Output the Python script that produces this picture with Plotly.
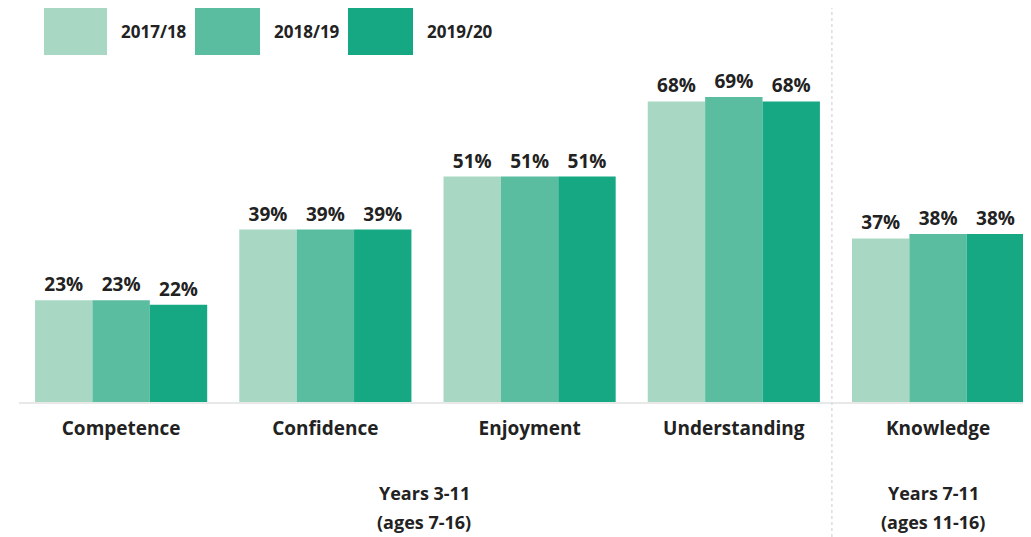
import plotly.graph_objects as go

categories = ["Competence", "Confidence", "Enjoyment", "Understanding", "Knowledge"]
years = ["2017/18", "2018/19", "2019/20"]
values_2017 = [23, 39, 51, 68, 37]
values_2018 = [23, 39, 51, 69, 38]
values_2019 = [22, 39, 51, 68, 38]
series = [values_2017, values_2018, values_2019]
colors = ["#a8d8c3", "#5bbd9f", "#15a883"]
group_lines = [["Years 3-11", "(ages 7-16)"], ["Years 7-11", "(ages 11-16)"]]

FONT = "Open Sans"
TXT = "#222222"
# page offset: body margin of 8px
OFF = 8
PL, PR = 19, 1031          # plot area left/right in page px
BASE = 402                 # baseline in page px
TOP = OFF                  # plot top in page px
PH = BASE - TOP


def px(xp):
    return (xp - PL) / (PR - PL)


def py(yp):
    return (BASE - yp) / PH


fig = go.Figure()
for name, vals, col in zip(years, series, colors):
    fig.add_trace(go.Bar(
        x=categories, y=vals, name=name, marker=dict(color=col, line=dict(width=0)),
        text=[f"{v}%" for v in vals], textposition="outside", cliponaxis=False,
        textfont=dict(family=FONT, size=19, color=TXT, weight="bold"),
        showlegend=False,
    ))

# dotted separator between groups
fig.add_shape(type="line", xref="x", yref="paper", x0=3.48, x1=3.48, y0=py(537), y1=py(0),
              line=dict(color="#dcdcdc", width=1.5, dash="dot"))

# custom legend
legend_x = [(44, 107), (195, 260), (348, 413)]
for (a, b), name, col in zip(legend_x, years, colors):
    fig.add_shape(type="rect", xref="paper", yref="paper",
                  x0=px(a), x1=px(b), y0=py(55), y1=py(7), fillcolor=col, line=dict(width=0))
    fig.add_annotation(xref="paper", yref="paper", x=px(b + 12), y=py(31),
                       text=name, showarrow=False, xanchor="left", yanchor="middle",
                       font=dict(family=FONT, size=17, color=TXT, weight="bold"))

# group labels
for xc, lines in zip([424, 933], group_lines):
    for yc, txt in zip([493, 522], lines):
        fig.add_annotation(xref="paper", yref="paper", x=px(xc), y=py(yc),
                           text=txt, showarrow=False, xanchor="center", yanchor="middle",
                           font=dict(family=FONT, size=18, color=TXT, weight="bold"))

W = PR - OFF
H = 537 - OFF
fig.update_layout(
    width=W, height=H, barmode="group", bargap=0.157, bargroupgap=0,
    margin=dict(l=PL - OFF, r=0, t=0, b=H - (BASE - OFF)),
    plot_bgcolor="white", paper_bgcolor="white",
    xaxis=dict(range=[-0.5, 4.455], showgrid=False, showline=True, linecolor="#e8e8e8", linewidth=2,
               ticks="", ticklabelstandoff=8,
               tickfont=dict(family=FONT, size=19, color=TXT, weight="bold")),
    yaxis=dict(range=[0, PH / 4.42], visible=False, showgrid=False),
)
fig.write_html("out.html")
